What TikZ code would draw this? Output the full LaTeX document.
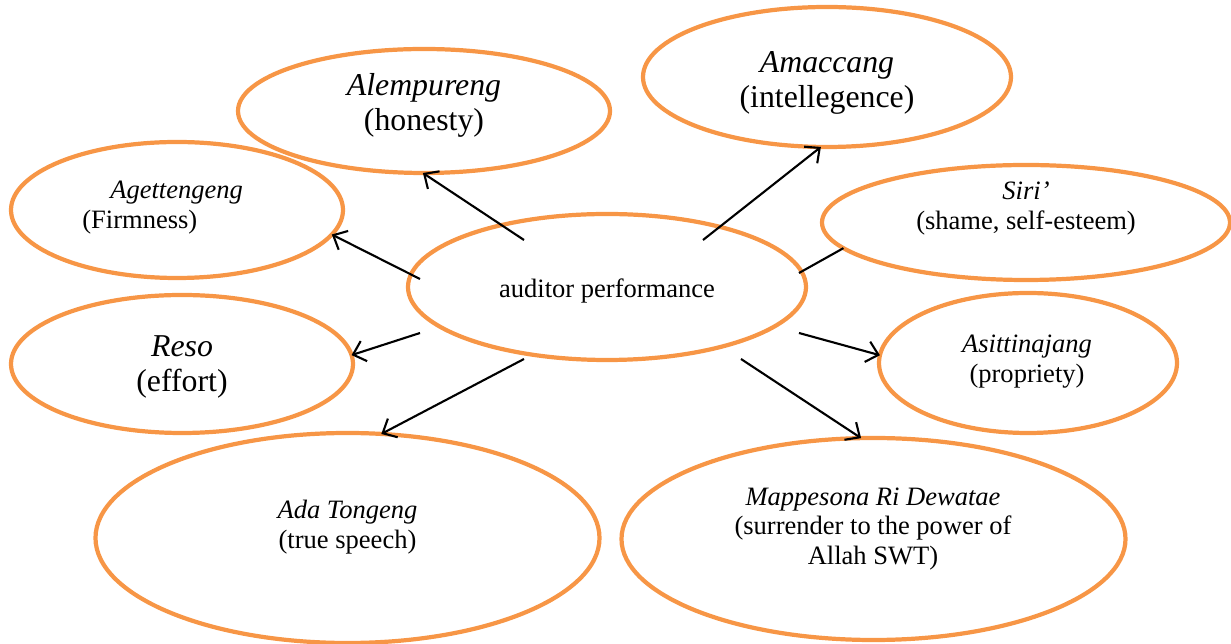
\documentclass[tikz,border=0pt]{standalone}
\usepackage{fontspec}
\setmainfont{Liberation Serif}
\usetikzlibrary{shapes.geometric,arrows.meta}
\definecolor{ora}{RGB}{247,150,70}
\begin{document}
\begin{tikzpicture}[x=0.02cm,y=-0.02cm,
  oval/.style={ellipse, draw=ora, line width=2.4pt, inner sep=0pt, outer sep=0pt},
  lbl/.style={align=center, inner sep=0pt, font=\fontsize{15.1}{17}\selectfont},
  biglbl/.style={align=center, inner sep=0pt, font=\fontsize{18.1}{20}\selectfont},
  link/.style={line width=1.2pt, -{Straight Barb[length=6.5pt,width=12pt]}},
  plainlink/.style={line width=1.2pt}]
\useasboundingbox (0,0) rectangle (1231,644);
% ellipses
\node[oval, minimum width=398*0.02cm, minimum height=146*0.02cm] (ctr) at (607,287) {};
\node[oval, minimum width=372*0.02cm, minimum height=124*0.02cm] (ale) at (424,111) {};
\node[oval, minimum width=368*0.02cm, minimum height=140*0.02cm] (ama) at (827,77) {};
\node[oval, minimum width=332*0.02cm, minimum height=136*0.02cm] (age) at (177,210) {};
\node[oval, minimum width=408*0.02cm, minimum height=115*0.02cm] (siri) at (1026,222.5) {};
\node[oval, minimum width=342*0.02cm, minimum height=138*0.02cm] (reso) at (182,364) {};
\node[oval, minimum width=298*0.02cm, minimum height=140*0.02cm] (asit) at (1028,363) {};
\node[oval, minimum width=504*0.02cm, minimum height=210*0.02cm] (ada) at (347.5,538) {};
\node[oval, minimum width=504*0.02cm, minimum height=202*0.02cm] (mapp) at (873.5,539) {};
% labels
\node[lbl] (tctr) at (607,291) {auditor performance};
\node[biglbl] (tale) at (424,105.5) {\textit{Alempureng}\\(honesty)};
\node[biglbl] (tama) at (827,83) {\textit{Amaccang}\\(intellegence)};
\node[lbl, align=left, anchor=west] (tage) at (82,208) {\hspace{0.56cm}\textit{Agettengeng}\\(Firmness)};
\node[lbl] (tsiri) at (1026,208.5) {\textit{Siri’}\\(shame, self-esteem)};
\node[biglbl] (treso) at (182,367) {\textit{Reso}\\(effort)};
\node[lbl] (tasit) at (1027,362) {\textit{Asittinajang}\\(propriety)};
\node[lbl] (tada) at (347.5,527) {\textit{Ada Tongeng}\\(true speech)};
\node[lbl] (tmapp) at (873,529) {\textit{Mappesona Ri Dewatae}\\(surrender to the power of\\Allah SWT)};
% connector start points
\coordinate (s1) at (524,240);
\coordinate (s2) at (703,240);
\coordinate (s3) at (420,279);
\coordinate (s4) at (420,333);
\coordinate (s5) at (524,359);
\coordinate (s6) at (799,273);
\coordinate (s7) at (799,333);
\coordinate (s8) at (741,359);
% connectors
\draw[link] (s1) -- (ale.-91);
\draw[link] (s2) -- (ama.-95);
\draw[link] (s3) -- (age.-9);
\draw[link] (s4) -- (reso.3);
\draw[link] (s5) -- (ada.72);
\draw[plainlink] (s6) -- (siri.188);
\draw[link] (s7) -- (asit.177);
\draw[link] (s8) -- (mapp.97);
\end{tikzpicture}
\end{document}
